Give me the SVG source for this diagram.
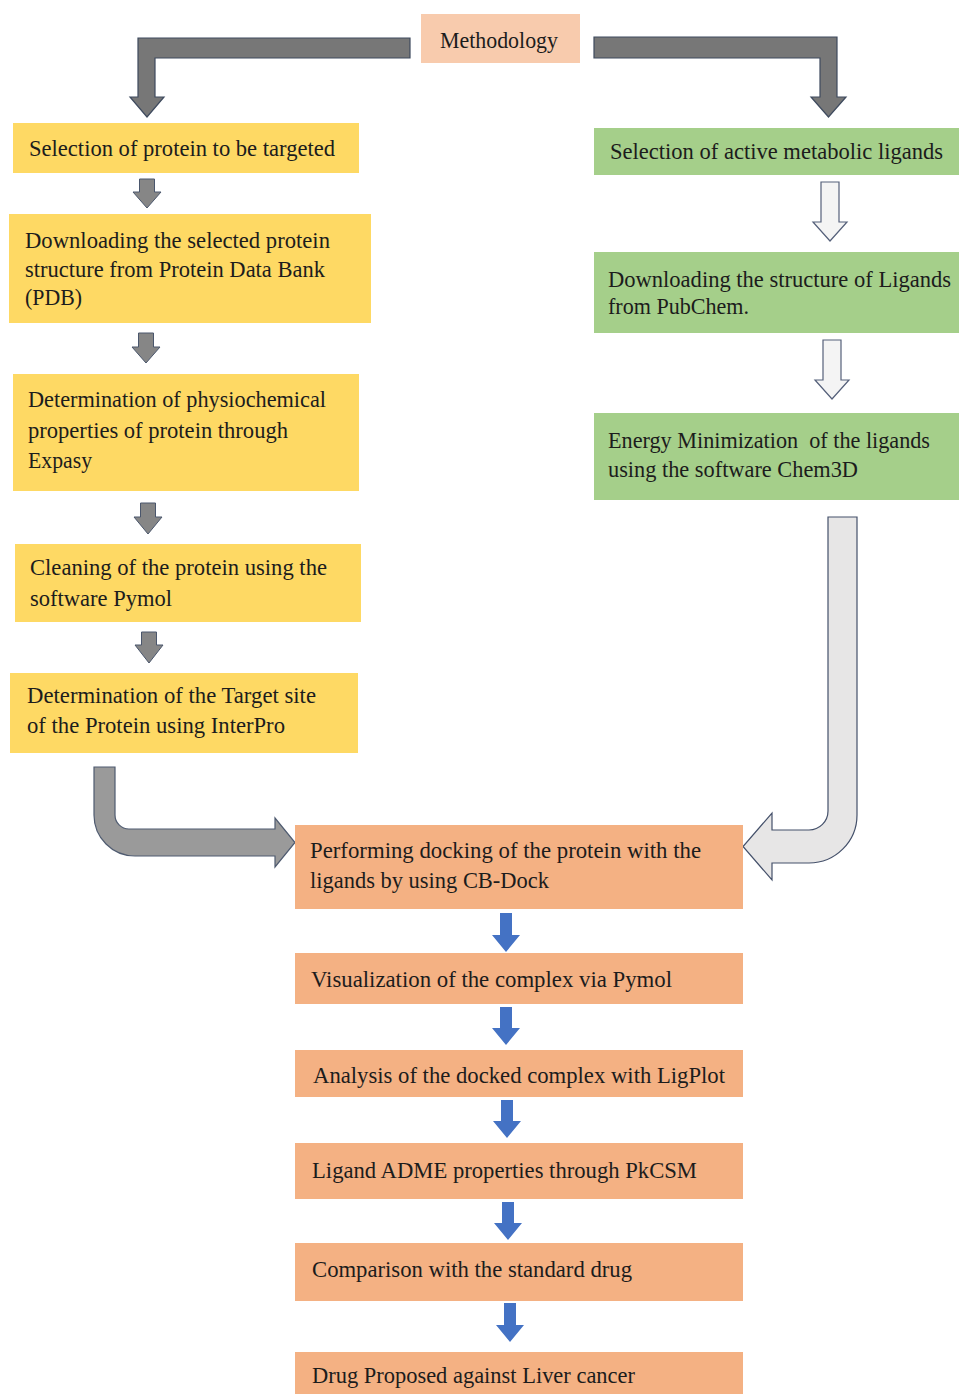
<svg xmlns="http://www.w3.org/2000/svg" width="959" height="1394" viewBox="0 0 959 1394">
<style>
text{font-family:"Liberation Serif","Times New Roman",serif;font-size:24px;fill:#1c1c1c}
.m{fill:#f8cbad}
.y{fill:#fed964}
.g{fill:#a5cf8a}
.o{fill:#f4b183}
.dg{fill:#777777;stroke:#3e4a5e;stroke-width:1.2}
.sg{fill:#868686;stroke:#4a566c;stroke-width:1}
.hl{fill:#f4f4f4;stroke:#55607a;stroke-width:1.2}
.bl{fill:#9a9a9a;stroke:#4f5b70;stroke-width:1.2}
.br{fill:#e7e6e6;stroke:#44506a;stroke-width:1.2}
.bu{fill:#4472c4}
</style>
<rect width="959" height="1394" fill="#ffffff"/>
<g id="connectors">
<path class="dg" d="M410 38 L138 38 L138 97 L130 97 L147 117 L164 97 L155 97 L155 58 L410 58 Z"/>
<path class="dg" d="M594 37 L837 37 L837 97 L846 97 L828.5 117 L811 97 L820 97 L820 58 L594 58 Z"/>
<path class="sg" d="M139.5 179 L154.5 179 L154.5 192 L161 192 L147 208 L133 192 L139.5 192 Z"/>
<path class="sg" d="M138.5 333 L153.5 333 L153.5 347 L160 347 L146 363 L132 347 L138.5 347 Z"/>
<path class="sg" d="M140.5 503 L155.5 503 L155.5 517 L162 517 L148 534 L134 517 L140.5 517 Z"/>
<path class="sg" d="M141.5 632 L156.5 632 L156.5 645 L163 645 L149 663 L135 645 L141.5 645 Z"/>
<path class="hl" d="M821 182 L839 182 L839 222 L847 222 L830 241 L813 222 L821 222 Z"/>
<path class="hl" d="M823 340 L841 340 L841 380 L849 380 L832 399 L815 380 L823 380 Z"/>
<path class="bl" d="M94 767 L115 767 L115 815 A14 14 0 0 0 129 829 L275 829 L275 818 L295 842.5 L275 867 L275 856 L135 856 A41 41 0 0 1 94 815 Z"/>
<path class="br" d="M828 517 L857 517 L857 815 A48 48 0 0 1 809 863 L772 863 L772 880 L743 846.5 L772 813 L772 830 L809 830 A19 19 0 0 0 828 811 Z"/>
<path class="bu" d="M500 913 L512 913 L512 935 L520 935 L506 952 L492 935 L500 935 Z"/>
<path class="bu" d="M500 1007 L512 1007 L512 1028 L520 1028 L506 1045 L492 1028 L500 1028 Z"/>
<path class="bu" d="M501 1100 L513 1100 L513 1121 L521 1121 L507 1138 L493 1121 L501 1121 Z"/>
<path class="bu" d="M502 1202 L514 1202 L514 1223 L522 1223 L508 1240 L494 1223 L502 1223 Z"/>
<path class="bu" d="M504 1303 L516 1303 L516 1325 L524 1325 L510 1342 L496 1325 L504 1325 Z"/>
</g>
<g id="methodology"><rect class="m" x="421" y="14" width="159" height="49"/><text x="440" y="48" textLength="118" lengthAdjust="spacingAndGlyphs">Methodology</text></g>
<g id="sel-protein"><rect class="y" x="13" y="123" width="346" height="50"/><text x="29" y="156" textLength="306" lengthAdjust="spacingAndGlyphs">Selection of protein to be targeted</text></g>
<g id="download-protein"><rect class="y" x="9" y="214" width="362" height="109"/>
<text x="25" y="248" textLength="305" lengthAdjust="spacingAndGlyphs">Downloading the selected protein</text>
<text x="25" y="277" textLength="300" lengthAdjust="spacingAndGlyphs">structure from Protein Data Bank</text>
<text x="25" y="305" textLength="57" lengthAdjust="spacingAndGlyphs">(PDB)</text></g>
<g id="physio"><rect class="y" x="13" y="374" width="346" height="117"/>
<text x="28" y="407" textLength="298" lengthAdjust="spacingAndGlyphs">Determination of physiochemical</text>
<text x="28" y="438" textLength="260" lengthAdjust="spacingAndGlyphs">properties of protein through</text>
<text x="28" y="468" textLength="64" lengthAdjust="spacingAndGlyphs">Expasy</text></g>
<g id="cleaning"><rect class="y" x="15" y="544" width="346" height="78"/>
<text x="30" y="575" textLength="297" lengthAdjust="spacingAndGlyphs">Cleaning of the protein using the</text>
<text x="30" y="606" textLength="142" lengthAdjust="spacingAndGlyphs">software Pymol</text></g>
<g id="target-site"><rect class="y" x="10" y="673" width="348" height="80"/>
<text x="27" y="703" textLength="289" lengthAdjust="spacingAndGlyphs">Determination of the Target site</text>
<text x="27" y="733" textLength="258" lengthAdjust="spacingAndGlyphs">of the Protein using InterPro</text></g>
<g id="sel-ligands"><rect class="g" x="594" y="128" width="365" height="47"/><text x="610" y="159" textLength="333" lengthAdjust="spacingAndGlyphs">Selection of active metabolic ligands</text></g>
<g id="download-ligands"><rect class="g" x="594" y="252" width="365" height="81"/>
<text x="608" y="287" textLength="343" lengthAdjust="spacingAndGlyphs">Downloading the structure of Ligands</text>
<text x="608" y="314" textLength="141" lengthAdjust="spacingAndGlyphs">from PubChem.</text></g>
<g id="energy-min"><rect class="g" x="594" y="413" width="365" height="87"/>
<text x="608" y="448" textLength="322" lengthAdjust="spacingAndGlyphs" xml:space="preserve">Energy Minimization  of the ligands</text>
<text x="608" y="477" textLength="250" lengthAdjust="spacingAndGlyphs">using the software Chem3D</text></g>
<g id="docking"><rect class="o" x="295" y="825" width="448" height="84"/>
<text x="310" y="858" textLength="391" lengthAdjust="spacingAndGlyphs">Performing docking of the protein with the</text>
<text x="310" y="888" textLength="239" lengthAdjust="spacingAndGlyphs">ligands by using CB-Dock</text></g>
<g id="visualization"><rect class="o" x="295" y="953" width="448" height="51"/><text x="311" y="987" textLength="361" lengthAdjust="spacingAndGlyphs">Visualization of the complex via Pymol</text></g>
<g id="analysis"><rect class="o" x="295" y="1050" width="448" height="47"/><text x="313" y="1083" textLength="412" lengthAdjust="spacingAndGlyphs">Analysis of the docked complex with LigPlot</text></g>
<g id="adme"><rect class="o" x="295" y="1143" width="448" height="56"/><text x="312" y="1178" textLength="385" lengthAdjust="spacingAndGlyphs">Ligand ADME properties through PkCSM</text></g>
<g id="comparison"><rect class="o" x="295" y="1243" width="448" height="58"/><text x="312" y="1277" textLength="320" lengthAdjust="spacingAndGlyphs">Comparison with the standard drug</text></g>
<g id="proposed"><rect class="o" x="295" y="1352" width="448" height="42"/><text x="312" y="1383" textLength="323" lengthAdjust="spacingAndGlyphs">Drug Proposed against Liver cancer</text></g>
</svg>
